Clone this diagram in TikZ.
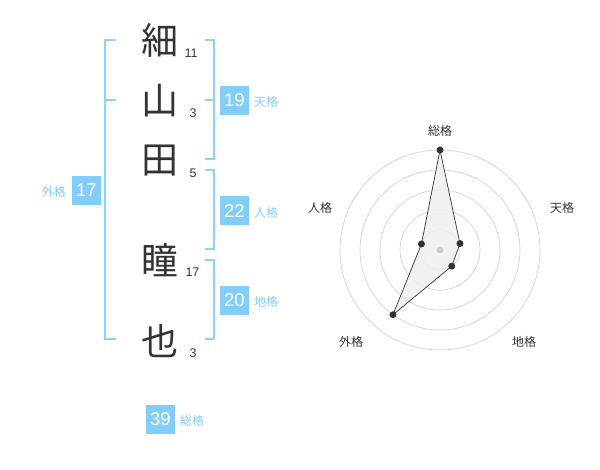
\documentclass[tikz,border=0pt]{standalone}
\usepackage{fontspec}
\setmainfont{Liberation Sans}
\newfontfamily\cjk{Noto Sans CJK JP}
\definecolor{kblue}{RGB}{129,206,250}
\definecolor{kline}{RGB}{140,211,250}
\definecolor{kdark}{RGB}{51,51,51}
\definecolor{kgrid}{RGB}{204,204,204}
\definecolor{kfill}{RGB}{238,238,238}
\begin{document}
\begin{tikzpicture}[x=1pt,y=-1pt,
  bigchar/.style={font=\cjk\fontsize{37}{37}\selectfont, text=kdark, inner sep=0pt},
  stroke/.style={font=\fontsize{12.5}{12.5}\selectfont, text=kdark, inner sep=0pt},
  numbox/.style={fill=kblue, text=white, minimum width=29pt, minimum height=29pt, inner sep=0pt, font=\fontsize{18.5}{18.5}\selectfont},
  kaku/.style={font=\cjk\fontsize{12}{12}\selectfont, text=kblue, inner sep=0pt},
  bracket/.style={draw=kline, line width=1.6pt},
  radlabel/.style={font=\cjk\fontsize{12}{12}\selectfont, text=kdark, inner sep=0pt},
  ring/.style={draw=kgrid, line width=0.6pt},
  dot/.style={circle, fill=kdark, inner sep=0pt, minimum size=7pt}
]
\useasboundingbox[fill=white] (0,0) rectangle (600,470);

% characters
\node[bigchar] (c1) at (160,40) {細};
\node[bigchar] (c2) at (160,101) {山};
\node[bigchar] (c3) at (160,161) {田};
\node[bigchar] (c4) at (160,260) {瞳};
\node[bigchar] (c5) at (160,341) {也};

\node[stroke] (s1) at (191,53) {11};
\node[stroke] (s2) at (193,113) {3};
\node[stroke] (s3) at (193,173) {5};
\node[stroke] (s4) at (192.5,272) {17};
\node[stroke] (s5) at (193,353) {3};

% brackets
\draw[bracket] (116,40) -- (105,40) -- (105,339) -- (116,339);
\draw[bracket] (105,100) -- (116,100);
\draw[bracket] (205,40) -- (214,40) -- (214,159) -- (205,159);
\draw[bracket] (205,100) -- (214,100);
\draw[bracket] (205,170) -- (214,170) -- (214,249) -- (205,249);
\draw[bracket] (205,260) -- (214,260) -- (214,339) -- (205,339);

% boxes
\node[numbox] (ten) at (234.5,100.5) {19};
\node[kaku, anchor=west] (tenl) at (254,102) {天格};
\node[numbox] (jin) at (234.5,211) {22};
\node[kaku, anchor=west] (jinl) at (254,213) {人格};
\node[numbox] (chi) at (234.5,300.5) {20};
\node[kaku, anchor=west] (chil) at (254,302) {地格};
\node[numbox] (gai) at (86.5,190.5) {17};
\node[kaku, anchor=east] (gail) at (66,192) {外格};
\node[numbox] (sou) at (160.5,419) {39};
\node[kaku, anchor=west] (soul) at (180,421) {総格};

% radar
\begin{scope}[shift={(440,250)}]
  \foreach \r in {20,40,60,80,100} \draw[ring] (0,0) circle (\r);
  \coordinate (pS) at (-90:100);
  \coordinate (pT) at (-18:21);
  \coordinate (pC) at (54:20);
  \coordinate (pG) at (126:80);
  \coordinate (pJ) at (198:19.5);
  \filldraw[fill=kfill, fill opacity=0.8, draw=kdark, line width=0.7pt] (pS) -- (pT) -- (pC) -- (pG) -- (pJ) -- cycle;
  \fill[kgrid] (0,0) circle (3.4);
  \foreach \p in {pS,pT,pC,pG,pJ} \node[dot] at (\p) {};
\end{scope}
\node[radlabel] (lS) at (440,131) {総格};
\node[radlabel] (lT) at (562,208) {天格};
\node[radlabel] (lC) at (524,342) {地格};
\node[radlabel] (lG) at (351,342) {外格};
\node[radlabel] (lJ) at (320,208) {人格};
\end{tikzpicture}
\end{document}
